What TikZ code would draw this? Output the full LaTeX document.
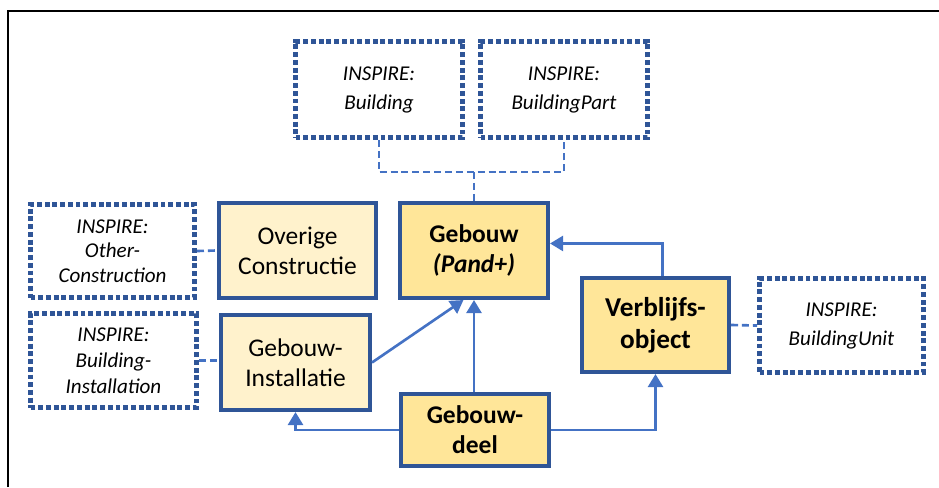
\documentclass[tikz,border=0pt]{standalone}
\usepackage{fontspec}
\setmainfont{Carlito}
\usetikzlibrary{arrows.meta}
\definecolor{rand}{HTML}{2F5597}
\definecolor{lijn}{HTML}{4472C4}
\definecolor{licht}{HTML}{FFF2CC}
\definecolor{goud}{HTML}{FFE699}

\tikzset{
	maat/.style 2 args={minimum width=#1*0.02cm, minimum height=#2*0.02cm},
	klasse/.style={draw=rand, line width=2.3pt, align=center, inner sep=0pt},
	overig/.style={klasse, fill=licht, font=\fontsize{14.5}{17}\selectfont},
	kern/.style={klasse, fill=goud, font=\bfseries\fontsize{14.5}{17}\selectfont},
	inspire/.style={draw=rand, line width=2.8pt, dash pattern=on 2.8pt off 1.6pt, align=center, inner sep=0pt, font=\itshape\fontsize{12}{16.5}\selectfont},
	pijl/.style={draw=lijn, line width=1.5pt, -{Triangle[length=7.4pt, width=8.5pt]}},
	koppel/.style={draw=lijn, line width=1.5pt, dash pattern=on 4pt off 2.2pt}
}

\begin{document}
\begin{tikzpicture}[x=0.02cm, y=-0.02cm]
	\useasboundingbox (0,0) rectangle (939,487);
	\draw [line width=1.1pt] (8,487) |- (939,11);

	\node [inspire, maat={167}{96}] (bldg) at (379,89.5) {INSPIRE:\\Building};
	\node [inspire, maat={167}{96}] (bpart) at (564,89.5) {INSPIRE:\\BuildingPart};
	\node [inspire, maat={164}{93}, font=\itshape\fontsize{12}{14}\selectfont] (other) at (112.5,251) {INSPIRE:\\Other-\\Construction};
	\node [inspire, maat={166}{94}, font=\itshape\fontsize{12}{14.7}\selectfont] (binst) at (113.5,360.5) {INSPIRE:\\Building-\\Installation};
	\node [inspire, maat={164}{94}] (bunit) at (841.5,325.5) {INSPIRE:\\BuildingUnit};

	\node [overig, maat={157}{95}] (overige) at (297.5,250.5) {Overige\\Constructie};
	\node [overig, maat={149}{95}] (ginst) at (295.5,362.5) {Gebouw-\\Installatie};
	\node [kern, maat={148}{95}] (gebouw) at (474,250.5) {Gebouw\\\textit{(Pand+)}};
	\node [kern, maat={148}{72}] (gdeel) at (475,430) {Gebouw-\\deel};
	\node [kern, maat={147}{94}, font=\bfseries\fontsize{15.5}{18}\selectfont] (vbo) at (655.5,325) {Verblijfs-\\object};

	\coordinate (splits) at (474,172);
	\draw [koppel] (bldg.south) |- (splits) -| (bpart.south);
	\draw [koppel] (splits) -- (gebouw.north);
	\draw [koppel] (other.east) -- (overige.west);
	\draw [koppel] (binst.east) -- (binst.east -| ginst.west);
	\draw [koppel] (vbo.east) -- (bunit.west);

	\draw [pijl] ([xshift=4pt]vbo.north) |- ([yshift=4pt]gebouw.east);
	\draw [pijl] (gebouw.south |- gdeel.north) -- (gebouw.south);
	\draw [pijl] (ginst.east) -- ([xshift=-6pt]gebouw.south);
	\draw [pijl] (gdeel.west) -| (ginst.south);
	\draw [pijl] (gdeel.east) -| (vbo.south);
\end{tikzpicture}
\end{document}
